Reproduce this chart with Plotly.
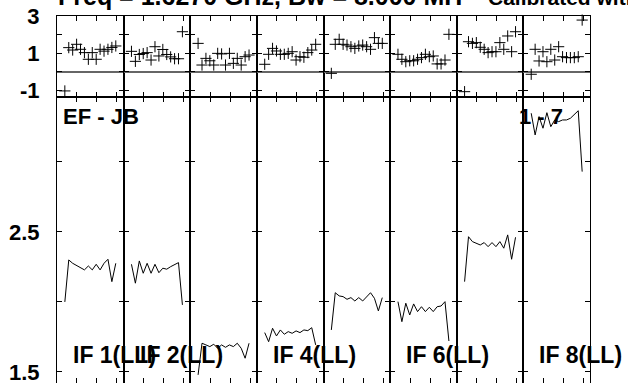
import plotly.graph_objects as go
from plotly.subplots import make_subplots

# channel numbers shared by every IF panel
channels = list(range(1, 15))

if_labels = ['IF 1(LL)', 'IF 2(LL)', '', 'IF 4(LL)', '', 'IF 6(LL)', '', 'IF 8(LL)']

# top row: phase-like points (+ markers)
top_if1 = [-1.05, 1.29, 1.16, 1.47, 1.2, 1.02, 0.66, 1.02, 0.66, 1.2, 1.1, 1.2, 1.3, 1.38]
top_if2 = [1.09, 0.55, 0.92, 0.97, 1.02, 0.62, 1.34, 0.84, 1.19, 0.92, 0.79, 0.69, 0.69, 2.15]
top_if3 = [1.52, 0.35, 0.71, 0.58, 0.35, 0.98, 0.95, 0.35, 0.98, 0.44, 0.71, 0.35, 0.8, 0.89]
top_if4 = [0.39, 0.93, 1.25, 1.11, 0.93, 0.93, 0.98, 1.07, 0.62, 0.8, 0.77, 1.02, 1.16, 1.47]
top_if5 = [-0.1, 1.47, 1.74, 1.47, 1.43, 1.34, 1.25, 1.38, 1.43, 1.34, 1.2, 1.83, 1.52, 1.52]
top_if6 = [0.93, 0.66, 0.53, 0.58, 0.58, 0.66, 0.75, 0.93, 0.80, 0.84, 0.41, 0.41, 0.62, 2.01]
top_if7 = [-1.09, 1.61, 1.52, 1.56, 1.31, 1.2, 1.02, 1.07, 1.07, 1.56, 1.2, 1.92, 1.07, 2.15]
top_if8 = [-0.15, 1.2, 0.57, 1.07, 0.53, 1.2, 0.62, 1.34, 0.8, 0.75, 0.75, 0.75, 0.8, 2.78]

# bottom row: amplitude-like lines
amp_if1 = [2.00, 2.30, 2.276, 2.262, 2.245, 2.229, 2.257, 2.229, 2.269, 2.229, 2.276, 2.305, 2.145, 2.276]
amp_if2 = [2.269, 2.134, 2.293, 2.205, 2.276, 2.205, 2.269, 2.209, 2.241, 2.234, 2.252, 2.264, 2.281, 1.979]
amp_if3 = [1.479, 1.705, 1.693, 1.681, 1.698, 1.669, 1.693, 1.676, 1.693, 1.681, 1.705, 1.669, 1.598, 1.705]
amp_if4 = [1.781, 1.716, 1.812, 1.757, 1.80, 1.769, 1.788, 1.776, 1.793, 1.781, 1.80, 1.795, 1.816, 1.693]
amp_if5 = [1.80, 2.066, 2.043, 2.038, 2.019, 2.031, 2.007, 2.031, 2.007, 2.038, 2.066, 2.026, 1.936, 2.031]
amp_if6 = [2.002, 1.859, 1.991, 1.907, 1.986, 1.931, 1.966, 1.931, 1.962, 1.931, 1.966, 1.971, 2.002, 1.721]
amp_if7 = [2.145, 2.466, 2.431, 2.419, 2.407, 2.424, 2.395, 2.424, 2.395, 2.431, 2.384, 2.479, 2.305, 2.462]
amp_if8 = [3.348, 3.193, 3.324, 3.241, 3.352, 3.252, 3.30, 3.288, 3.30, 3.30, 3.312, 3.336, 3.366, 2.931]

top_rows = [top_if1, top_if2, top_if3, top_if4, top_if5, top_if6, top_if7, top_if8]
amp_rows = [amp_if1, amp_if2, amp_if3, amp_if4, amp_if5, amp_if6, amp_if7, amp_if8]

W, H = 628, 383
L, R, T, B = 57, 38, 16, 0
FONT = 'Liberation Sans, Arial, sans-serif'

fig = make_subplots(rows=2, cols=8, horizontal_spacing=0, vertical_spacing=0,
                    row_heights=[81, 286])

for i in range(8):
    fig.add_trace(go.Scatter(x=channels, y=top_rows[i], mode='markers',
                             marker=dict(symbol='cross-thin', size=8,
                                         line=dict(color='black', width=1)),
                             showlegend=False, cliponaxis=False),
                  row=1, col=i + 1)
    fig.add_trace(go.Scatter(x=channels, y=amp_rows[i], mode='lines',
                             line=dict(color='black', width=1),
                             showlegend=False),
                  row=2, col=i + 1)

# axes styling: boxed panels with inside ticks on every side
fig.update_xaxes(range=[-1, 16], showticklabels=False, showgrid=False, zeroline=False,
                 showline=True, linecolor='black', linewidth=1, mirror='allticks',
                 ticks='inside', ticklen=5, tickcolor='black',
                 tickvals=[4.1, 9.2, 14.3], automargin=False)
fig.update_yaxes(showgrid=False, showline=True, linecolor='black', linewidth=1,
                 mirror='allticks', ticks='inside', ticklen=5, tickcolor='black',
                 showticklabels=False, automargin=False, ticklabeloverflow='allow',
                 tickfont=dict(family=FONT, size=22, color='black', weight='bold'))
fig.update_yaxes(row=1, range=[-1.378, 3], tickvals=[-1, 0, 1, 2, 3],
                 ticktext=['-1', '', '1', '', '3'],
                 zeroline=True, zerolinecolor='#666666', zerolinewidth=1.5)
fig.update_yaxes(row=2, range=[1.421, 3.464], tickvals=[1.5, 2.0, 2.5, 3.0],
                 ticktext=['1.5', '', '2.5', ''], zeroline=False)
fig.update_yaxes(col=1, showticklabels=True, ticklabelstandoff=12)


def px_x(px):
    return (px - L) / (W - L - R)


def px_y(py):
    return (H - B - py) / (H - T - B)


bold = dict(family=FONT, color='black', weight='bold')
annotations = [
    dict(text='Freq = 1.6270 GHz, Bw = 8.000 MH', x=px_x(56), y=px_y(12),
         xanchor='left', yanchor='bottom', font=dict(size=25, **bold)),
    dict(text='Calibrated with', x=px_x(486), y=px_y(11),
         xanchor='left', yanchor='bottom', font=dict(size=21, **bold)),
    dict(text='EF - JB', x=px_x(61), y=px_y(116), xanchor='left', yanchor='middle',
         font=dict(size=22, **bold)),
    dict(text='1 - 7', x=px_x(565), y=px_y(116), xanchor='right', yanchor='middle',
         font=dict(size=22, **bold)),
]
panel_w = (W - L - R) / 8
for i, label in enumerate(if_labels):
    if label:
        annotations.append(dict(text=label, x=px_x(L + panel_w * i + 14), y=px_y(355),
                                xanchor='left', yanchor='middle',
                                font=dict(size=23, **bold)))
for a in annotations:
    a.update(xref='paper', yref='paper', showarrow=False)

fig.update_layout(width=W, height=H, margin=dict(l=L, r=R, t=T, b=B),
                  plot_bgcolor='white', paper_bgcolor='white',
                  annotations=annotations)

# drop the default page margin so the figure sits at the window corner
fig.write_html("out.html", config={'displayModeBar': False},
               post_script="document.body.style.margin='0';")
